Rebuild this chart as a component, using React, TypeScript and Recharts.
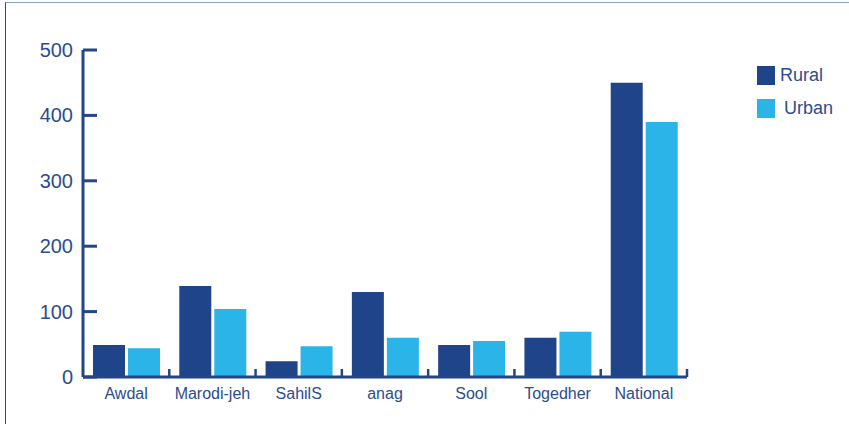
import { BarChart, Bar, XAxis, YAxis } from "recharts";

const regions = ["Awdal", "Marodi-jeh", "SahilS", "anag", "Sool", "Togedher", "National"];
const rural = [49, 139, 24, 130, 49, 60, 450];
const urban = [44, 104, 47, 60, 55, 69, 390];
const yTicks = [0, 100, 200, 300, 400, 500];

const data = regions.map((region, i) => ({ region, Rural: rural[i], Urban: urban[i] }));

const DARK = "#1f4489";
const LIGHT = "#2bb4e8";
const AXIS = "#22468b";
const TEXT = "#2c4c8e";
const FONT = "'Liberation Sans', Arial, sans-serif";

const W = 849;
const H = 424;
const M = { top: 50, right: 162, left: 23, bottom: 17 };
const Y_W = 60;
const BAND = (W - M.left - Y_W - M.right) / regions.length;

function YTick(props: any) {
  const { x, y, payload } = props;
  return (
    <g>
      <line x1={x} x2={x + 14} y1={y} y2={y} stroke={AXIS} strokeWidth={3} />
      <text x={x - 10} y={y} dy={7} textAnchor="end" fill={TEXT} fontSize={20} fontFamily={FONT}>
        {payload.value}
      </text>
    </g>
  );
}

function XTick(props: any) {
  const { x, y, payload } = props;
  const bx = x + BAND / 2;
  return (
    <g>
      <line x1={bx} x2={bx} y1={y} y2={y - 8} stroke={AXIS} strokeWidth={2.5} />
      <text x={x} y={y + 22} textAnchor="middle" fill={TEXT} fontSize={16} fontFamily={FONT}>
        {payload.value}
      </text>
    </g>
  );
}

const legendItems = [
  { name: "Rural", color: DARK, dx: 0 },
  { name: "Urban", color: LIGHT, dx: 4 },
];

function LegendBox() {
  return (
    <div style={{ position: "absolute", left: 757, top: 66, fontFamily: FONT }}>
      {legendItems.map((it) => (
        <div key={it.name} style={{ display: "flex", alignItems: "center", height: 19, marginBottom: 14 }}>
          <div style={{ width: 18, height: 19, background: it.color }} />
          <span style={{ marginLeft: 5 + it.dx, fontSize: 18, color: TEXT, lineHeight: "19px" }}>{it.name}</span>
        </div>
      ))}
    </div>
  );
}

export default function App() {
  return (
    <div style={{ position: "absolute", left: 0, top: 0, width: W, height: H, background: "#fff" }}>
      <div
        style={{
          position: "absolute",
          left: 5,
          top: 2,
          right: 0,
          bottom: 0,
          borderTop: "1px solid #8d9fc2",
          borderLeft: "1px solid #2a4a8c",
        }}
      />
      <div style={{ position: "absolute", left: 0, top: 0 }}>
        <BarChart width={W} height={H} data={data} margin={M} barCategoryGap="11.6%" barGap={3}>
          <XAxis
            dataKey="region"
            height={30}
            tickSize={0}
            tickMargin={0}
            tick={<XTick />}
            axisLine={{ stroke: AXIS, strokeWidth: 3 }}
            interval={0}
          />
          <YAxis
            width={Y_W}
            domain={[0, 500]}
            ticks={yTicks}
            tickSize={0}
            tickMargin={0}
            tick={<YTick />}
            axisLine={{ stroke: AXIS, strokeWidth: 3 }}
          />
          <Bar dataKey="Rural" fill={DARK} isAnimationActive={false} />
          <Bar dataKey="Urban" fill={LIGHT} isAnimationActive={false} />
        </BarChart>
      </div>
      <LegendBox />
    </div>
  );
}
